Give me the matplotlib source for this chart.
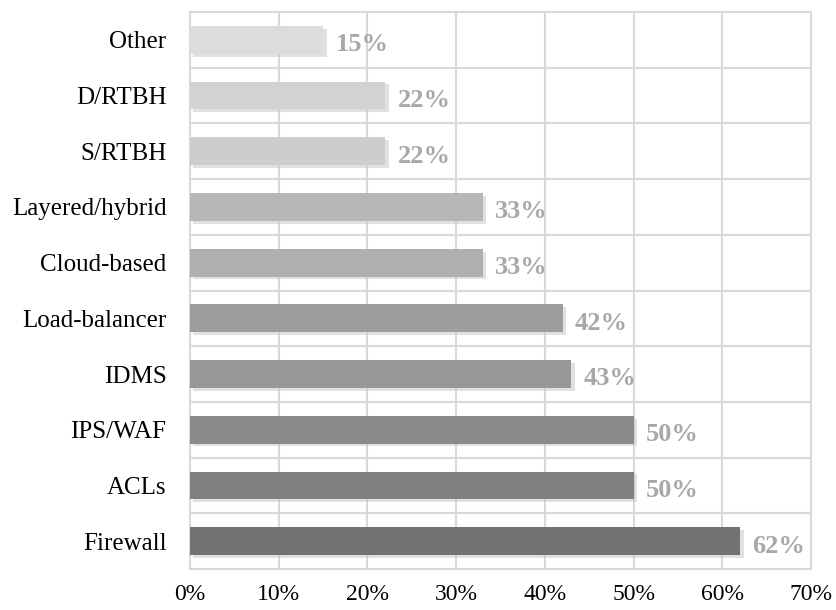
import matplotlib
matplotlib.use("Agg")
import matplotlib.pyplot as plt
from matplotlib import patheffects as pe
from matplotlib.ticker import FuncFormatter, MultipleLocator

categories = ["Firewall", "ACLs", "IPS/WAF", "IDMS", "Load-balancer",
              "Cloud-based", "Layered/hybrid", "S/RTBH", "D/RTBH", "Other"]
values = [62, 50, 50, 43, 42, 33, 33, 22, 22, 15]
colors = ["#727272", "#808080", "#8a8a8a", "#979797", "#9d9d9d",
          "#afafaf", "#b7b7b7", "#cdcdcd", "#d2d2d2", "#dcdcdc"]

plt.rcParams['font.family'] = ['Liberation Serif', 'DejaVu Serif']

fig = plt.figure(figsize=(8.37, 6.10), dpi=100)
ax = fig.add_axes([190/837, 1-569/610, (811-190)/837, (569-12)/610])

y = list(range(len(categories)))
bars = ax.barh(y, values, height=0.5, color=colors, zorder=3)
for b in bars:
    b.set_path_effects([pe.SimplePatchShadow(offset=(2.5, -2), shadow_rgbFace="#c4c4c4", alpha=0.5), pe.Normal()])

for yi, v in zip(y, values):
    ax.annotate(f"{v}%", xy=(v, yi), xytext=(9, -3.5), textcoords="offset points",
                va="center", ha="left", fontsize=19, fontweight="bold", color="#a8a8a8")

ax.set_xlim(0, 70)
ax.set_ylim(-0.5, len(categories) - 0.5)
ax.set_yticks(y)
ax.set_yticklabels(categories, fontsize=18)
ax.xaxis.set_major_locator(MultipleLocator(10))
ax.xaxis.set_major_formatter(FuncFormatter(lambda x, p: f"{int(round(x))}%"))
ax.tick_params(axis='x', labelsize=17, length=0, pad=11)
ax.tick_params(axis='y', length=0, pad=17)

ax.set_yticks([i - 0.5 for i in range(len(categories) + 1)], minor=True)
ax.grid(True, axis='x', which='major', color="#d9d9d9", linewidth=1.5, zorder=0)
ax.grid(True, axis='y', which='minor', color="#d9d9d9", linewidth=1.5, zorder=0)
ax.grid(False, axis='y', which='major')
ax.tick_params(axis='y', which='minor', length=0)
for s in ax.spines.values():
    s.set_color("#d9d9d9")
    s.set_linewidth(1.5)

fig.savefig("out.png", dpi=100)
